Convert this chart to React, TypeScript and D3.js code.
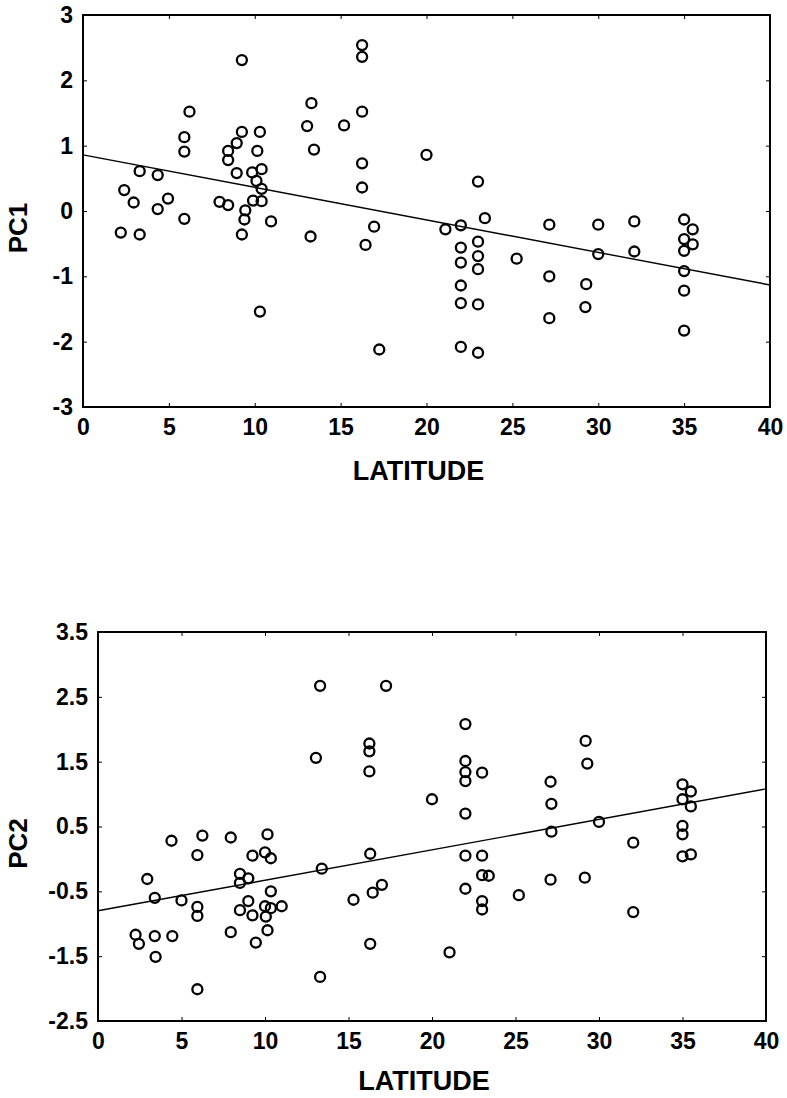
import React, { useRef, useEffect } from "react";
import * as d3 from "d3";

// PC1 vs latitude (top panel)
const pc1Lat = [
  2.2, 2.4, 2.95, 3.3, 3.3, 4.35, 4.35, 4.95, 5.9, 5.9, 5.9, 6.2, 7.95, 8.45, 8.45, 8.45,
  8.95, 8.95, 9.25, 9.25, 9.25, 9.4, 9.45, 9.85, 9.9, 10.1, 10.15, 10.3, 10.3, 10.4, 10.4,
  10.4, 10.95, 13.05, 13.25, 13.3, 13.45, 15.2, 16.25, 16.25, 16.25, 16.25, 16.25, 16.45,
  16.95, 17.25, 20.0, 21.1, 22.0, 22.0, 22.0, 22.0, 22.0, 22.0, 23.0, 23.0, 23.0, 23.0,
  23.0, 23.0, 23.4, 25.25, 27.15, 27.15, 27.15, 29.3, 29.25, 30.0, 30.0, 32.1, 32.1, 35.0,
  35.0, 35.0, 35.0, 35.0, 35.0, 35.5, 35.5,
];
const pc1Val = [
  -0.33, 0.32, 0.13, 0.61, -0.36, 0.03, 0.55, 0.19, 1.13, 0.91, -0.12, 1.52, 0.14, 0.92, 0.78,
  0.09, 1.04, 0.58, 2.31, 1.21, -0.36, -0.13, 0.01, 0.59, 0.16, 0.46, 0.92, 1.21, -1.54, 0.64,
  0.34, 0.15, -0.16, 1.3, -0.39, 1.65, 0.94, 1.31, 2.54, 2.36, 1.52, 0.73, 0.36, -0.52, -0.24,
  -2.12, 0.86, -0.28, -0.22, -0.56, -0.79, -1.14, -1.41, -2.08, 0.45, -0.47, -0.69, -0.89,
  -1.43, -2.17, -0.11, -0.73, -0.21, -1.0, -1.64, -1.12, -1.47, -0.21, -0.66, -0.16, -0.62,
  -0.13, -0.43, -0.61, -0.92, -1.22, -1.83, -0.28, -0.51,
];
const pc1Fit = { intercept: 0.86, slope: -0.0498 };
const pc1Ticks = [-3, -2, -1, 0, 1, 2, 3];

// PC2 vs latitude (bottom panel)
const pc2Lat = [
  2.25, 2.45, 2.95, 3.4, 3.4, 3.45, 4.4, 4.45, 5.0, 5.95, 5.95, 5.95, 5.95, 6.25, 7.95, 7.95,
  8.5, 8.5, 8.5, 9.0, 9.0, 9.25, 9.25, 9.45, 10.0, 10.0, 10.05, 10.15, 10.15, 10.35, 10.35,
  10.35, 11.0, 13.05, 13.3, 13.3, 13.4, 15.3, 16.25, 16.25, 16.25, 16.3, 16.3, 16.45, 17.0,
  17.25, 20.0, 21.05, 22.0, 22.0, 22.0, 22.0, 22.0, 22.0, 22.0, 23.0, 23.0, 23.0, 23.0, 23.0,
  23.4, 25.2, 27.1, 27.15, 27.15, 27.1, 29.2, 29.3, 29.15, 30.0, 32.05, 32.05, 35.0, 35.0,
  35.0, 35.0, 35.0, 35.5, 35.5, 35.5,
];
const pc2Val = [
  -1.17, -1.31, -0.31, -0.6, -1.19, -1.51, 0.28, -1.19, -0.64, 0.06, -0.74, -0.88, -2.01, 0.36,
  0.33, -1.13, -0.23, -0.37, -0.79, -0.3, -0.65, 0.05, -0.87, -1.29, 0.1, -0.73, -0.89, 0.38,
  -1.1, 0.01, -0.5, -0.76, -0.73, 1.56, 2.67, -1.82, -0.15, -0.63, 1.78, 1.66, 1.35, 0.08,
  -1.31, -0.52, -0.4, 2.67, 0.92, -1.44, 2.08, 1.51, 1.34, 1.2, 0.7, 0.05, -0.46, 1.33, 0.05,
  -0.25, -0.65, -0.78, -0.26, -0.56, 1.19, 0.85, 0.42, -0.32, 1.82, 1.47, -0.29, 0.57, 0.25,
  -0.82, 1.15, 0.92, 0.51, 0.38, 0.04, 1.04, 0.81, 0.07,
];
const pc2Fit = { intercept: -0.8, slope: 0.047 };
const pc2Ticks = [-2.5, -1.5, -0.5, 0.5, 1.5, 2.5, 3.5];

const latTicks = [0, 5, 10, 15, 20, 25, 30, 35, 40];

const FONT = "'Liberation Sans', Arial, sans-serif";

function drawPanel(svg, opts) {
  const { lat, val, fit, yTicks, yLabel, box, titleGap } = opts;
  const x = d3.scaleLinear().domain([0, 40]).range([box.left, box.right]);
  const y = d3
    .scaleLinear()
    .domain([yTicks[0], yTicks[yTicks.length - 1]])
    .range([box.bottom, box.top]);

  const g = svg.append("g");

  // axes with small inward ticks
  const left = g
    .append("g")
    .attr("transform", `translate(${box.left},0)`)
    .call(d3.axisLeft(y).tickValues(yTicks).tickSize(-4).tickPadding(10).tickFormat(String));
  const bottom = g
    .append("g")
    .attr("transform", `translate(0,${box.bottom})`)
    .call(d3.axisBottom(x).tickValues(latTicks).tickSize(-4).tickPadding(12).tickFormat(String));
  g.append("g")
    .attr("transform", `translate(${box.right},0)`)
    .call(d3.axisRight(y).tickValues(yTicks).tickSize(-4).tickFormat(""));
  g.append("g")
    .attr("transform", `translate(0,${box.top})`)
    .call(d3.axisTop(x).tickValues(latTicks).tickSize(-4).tickFormat(""));

  g.selectAll(".domain").remove();
  g.selectAll(".tick line").attr("stroke", "#000").attr("stroke-width", 1);
  [left, bottom].forEach((a) =>
    a
      .selectAll("text")
      .attr("font-family", FONT)
      .attr("font-weight", "bold")
      .attr("font-size", 23)
      .attr("fill", "#000")
  );
  bottom.selectAll("text").attr("dy", "0.71em");

  // frame
  g.append("rect")
    .attr("x", box.left)
    .attr("y", box.top)
    .attr("width", box.right - box.left)
    .attr("height", box.bottom - box.top)
    .attr("fill", "none")
    .attr("stroke", "#000")
    .attr("stroke-width", 2);

  // regression line
  const line = d3
    .line()
    .x((d) => x(d))
    .y((d) => y(fit.intercept + fit.slope * d));
  g.append("path")
    .datum([0, 40])
    .attr("fill", "none")
    .attr("stroke", "#000")
    .attr("stroke-width", 1.4)
    .attr("d", line);

  // points
  g.selectAll(".pt")
    .data(lat)
    .enter()
    .append("circle")
    .attr("class", "pt")
    .attr("cx", (d) => x(d))
    .attr("cy", (d, i) => y(val[i]))
    .attr("r", 5)
    .attr("fill", "none")
    .attr("stroke", "#000")
    .attr("stroke-width", 2.3);

  // axis titles
  g.append("text")
    .attr("x", (box.left + box.right) / 2 - 8)
    .attr("y", box.bottom + titleGap)
    .attr("text-anchor", "middle")
    .attr("font-family", FONT)
    .attr("font-weight", "bold")
    .attr("font-size", 27)
    .text("LATITUDE");
  g.append("text")
    .attr("transform", `translate(27,${(box.top + box.bottom) / 2 + 17}) rotate(-90)`)
    .attr("text-anchor", "middle")
    .attr("font-family", FONT)
    .attr("font-weight", "bold")
    .attr("font-size", 26)
    .text(yLabel);
}

function App() {
  const svgRef = useRef();

  useEffect(() => {
    const svg = d3.select(svgRef.current);
    svg.selectAll("*").remove();
    drawPanel(svg, {
      lat: pc1Lat,
      val: pc1Val,
      fit: pc1Fit,
      yTicks: pc1Ticks,
      yLabel: "PC1",
      box: { left: 83, right: 770, top: 15, bottom: 407 },
      titleGap: 73,
    });
    drawPanel(svg, {
      lat: pc2Lat,
      val: pc2Val,
      fit: pc2Fit,
      yTicks: pc2Ticks,
      yLabel: "PC2",
      box: { left: 98, right: 766, top: 632, bottom: 1021 },
      titleGap: 69,
    });
  }, []);

  return (
    <div style={{ position: "absolute", left: 0, top: 0, background: "#fff" }}>
      <svg ref={svgRef} width={787} height={1098} style={{ display: "block" }} />
    </div>
  );
}

export default App;
